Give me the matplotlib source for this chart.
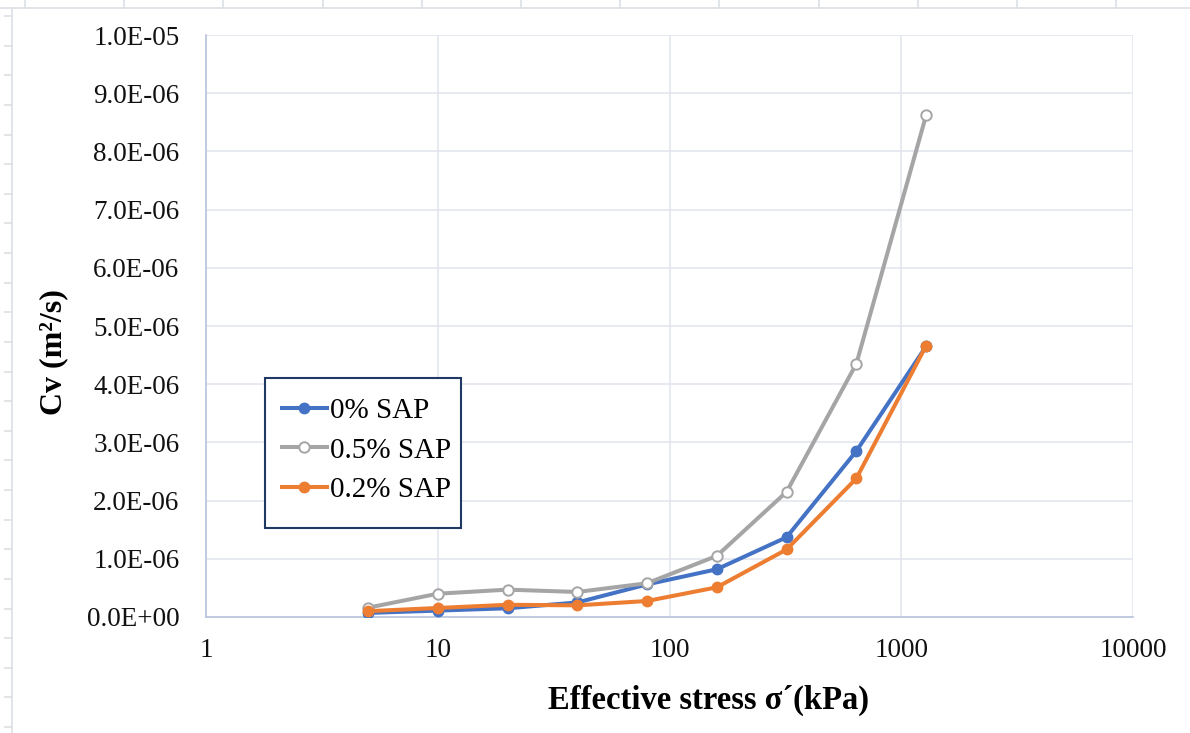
import matplotlib.pyplot as plt
import numpy as np
from matplotlib.lines import Line2D
from matplotlib.patches import Rectangle
from matplotlib.ticker import FixedLocator, FuncFormatter, NullLocator

# consolidation coefficient vs effective stress
stress_kpa = [5, 10, 20, 40, 80, 160, 320, 640, 1280]
cv_0_sap = [0.07e-6, 0.11e-6, 0.15e-6, 0.25e-6, 0.56e-6, 0.82e-6, 1.37e-6, 2.85e-6, 4.65e-6]
cv_05_sap = [0.16e-6, 0.40e-6, 0.47e-6, 0.43e-6, 0.58e-6, 1.05e-6, 2.15e-6, 4.35e-6, 8.62e-6]
cv_02_sap = [0.10e-6, 0.155e-6, 0.21e-6, 0.20e-6, 0.275e-6, 0.51e-6, 1.16e-6, 2.38e-6, 4.66e-6]

series_labels = ["0% SAP", "0.5% SAP", "0.2% SAP"]
x_ticks = [1, 10, 100, 1000, 10000]
y_ticks = np.arange(0, 11) * 1e-6

BLUE = "#4472C4"
GRAY = "#A5A5A5"
ORANGE = "#ED7D31"
GRID = "#E3E6EE"
SHEET = "#DCDFE4"

W, H = 1190, 733
plt.rcParams["font.family"] = ["Liberation Serif", "DejaVu Serif"]

fig = plt.figure(figsize=(W / 100, H / 100), dpi=100)


def fx(px):
    return px / W


def fy(py):
    return 1 - py / H


# spreadsheet cells showing around the chart
fig.add_artist(Line2D([0, 1], [fy(8), fy(8)], color=SHEET, lw=1.2))
fig.add_artist(Line2D([fx(12), fx(12)], [0, fy(8)], color=SHEET, lw=1.2))
for cx in np.arange(25, W, 99.2):
    fig.add_artist(Line2D([fx(cx), fx(cx)], [fy(0), fy(8)], color=SHEET, lw=1.2))
for ry in np.arange(16, H, 29.63):
    fig.add_artist(Line2D([fx(5), fx(12)], [fy(ry), fy(ry)], color=SHEET, lw=1.2))

ax = fig.add_axes([fx(206), fy(617), fx(1133 - 206), (617 - 35) / H])
ax.set_xscale("log")
ax.set_xlim(1, 10000)
ax.set_ylim(0, 1e-5)

style = dict(lw=2.9, marker="o", ms=7.5)
ax.plot(stress_kpa, cv_0_sap, color=BLUE, mfc=BLUE, mec=BLUE,
        label=series_labels[0], zorder=3, **style)
ax.plot(stress_kpa, cv_05_sap, color=GRAY, mfc="white", mec=GRAY, mew=1.4,
        label=series_labels[1], zorder=4, **style)
ax.plot(stress_kpa, cv_02_sap, color=ORANGE, mfc=ORANGE, mec=ORANGE,
        label=series_labels[2], zorder=5, **style)

ax.xaxis.set_major_locator(FixedLocator(x_ticks))
ax.xaxis.set_minor_locator(NullLocator())
ax.xaxis.set_major_formatter(FuncFormatter(lambda v, _: f"{int(round(v))}"))
ax.yaxis.set_major_locator(FixedLocator(y_ticks))
ax.yaxis.set_major_formatter(FuncFormatter(lambda v, _: f"{v:.1E}"))

ax.grid(True, color=GRID, lw=1.2)
ax.set_axisbelow(True)
ax.tick_params(length=0, labelsize=19.5, colors="#111111")
ax.tick_params(axis="x", pad=15)
ax.tick_params(axis="y", pad=19)
for side in ["top", "right"]:
    ax.spines[side].set_visible(False)
for side in ["left", "bottom"]:
    ax.spines[side].set_color("#B8C4DC")
    ax.spines[side].set_linewidth(1.2)

ax.set_ylabel("Cv (m²/s)", fontsize=23, fontweight="bold")
ax.yaxis.set_label_coords((68 - 206) / 927, (617 - 352) / 582)
fig.text(fx(709), fy(700), "Effective stress σ´(kPa)", fontsize=23.5,
         fontweight="bold", ha="center", va="center")

# legend box with room below the entries
fig.add_artist(Rectangle((fx(265), fy(528)), fx(461 - 265), (528 - 378) / H,
                         fill=True, facecolor="white", edgecolor="#1F3864",
                         lw=1.5, zorder=6))
leg = fig.legend(loc="upper left", bbox_to_anchor=(fx(270), fy(386)),
                 frameon=False, fontsize=21, handlelength=1.55,
                 handletextpad=0.1, labelspacing=0.45, borderaxespad=0)
leg.set_zorder(7)

fig.savefig("out.png", dpi=100)
